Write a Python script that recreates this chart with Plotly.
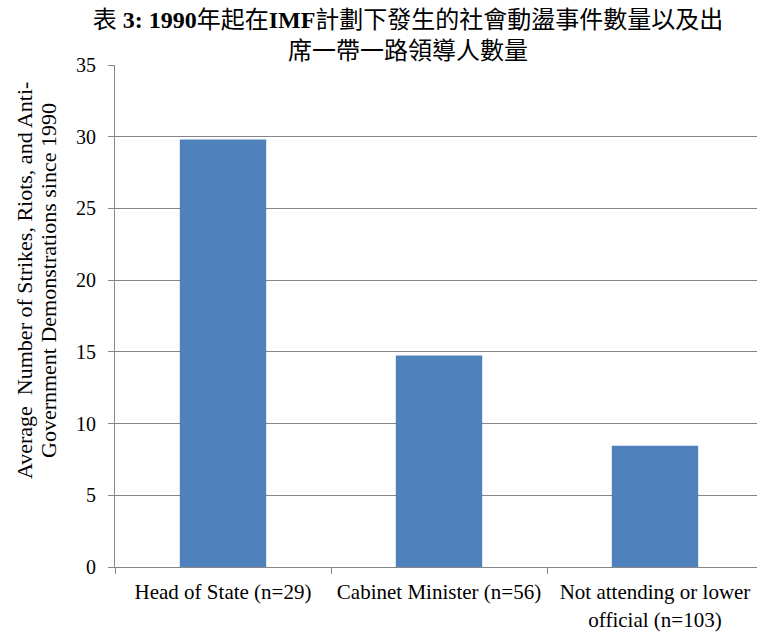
import plotly.graph_objects as go

# Chart data
categories = ["Head of State (n=29)", "Cabinet Minister (n=56)", "Not attending or lower<br>official (n=103)"]
avg_events = [29.8, 14.75, 8.45]
y_ticks = [0, 5, 10, 15, 20, 25, 30, 35]

title_text = "表 <b>3: 1990</b>年起在<b>IMF</b>計劃下發生的社會動盪事件數量以及出<br>席一帶一路領導人數量"
y_title_lines = ["Average  Number of Strikes, Riots, and Anti-",
                 "Government Demonstrations since 1990"]

FONT = "Liberation Serif, Times New Roman, Noto Sans CJK TC, serif"
W, H = 757, 632
L, R, T, B = 115, 0, 65, 65
plot_w = W - L - R
plot_h = H - T - B
cat_px = 216  # pixel width of one category band

fig = go.Figure(
    go.Bar(
        x=categories,
        y=avg_events,
        marker=dict(color="#4F81BD", line=dict(width=0)),
        width=0.4,
    )
)

fig.update_layout(
    width=W,
    height=H,
    margin=dict(l=L, r=R, t=T, b=B),
    paper_bgcolor="white",
    plot_bgcolor="white",
    font=dict(family=FONT, color="#000000"),
    showlegend=False,
    title=dict(
        text=title_text,
        x=408 / W,
        xanchor="center",
        xref="container",
        y=1 - 28 / H,
        yanchor="top",
        yref="container",
        font=dict(family=FONT, size=24, color="#000000"),
    ),
)

fig.update_xaxes(
    range=[-0.5, -0.5 + plot_w / cat_px],
    showgrid=False,
    showline=True,
    linecolor="#868686",
    linewidth=1,
    ticks="outside",
    tickson="boundaries",
    ticklen=6,
    tickcolor="#868686",
    tickfont=dict(family=FONT, size=21, color="#000000"),
    ticklabelstandoff=6,
    fixedrange=True,
)

fig.update_yaxes(
    range=[0, 35],
    tickvals=y_ticks,
    showgrid=True,
    gridcolor="#868686",
    gridwidth=1,
    showline=True,
    linecolor="#868686",
    linewidth=1,
    ticks="outside",
    ticklen=6,
    tickcolor="#868686",
    tickfont=dict(family=FONT, size=20, color="#000000"),
    ticklabelstandoff=8,
    zeroline=False,
    fixedrange=True,
)

# Two-line rotated y-axis title
for text, px in zip(y_title_lines, [24, 48]):
    fig.add_annotation(
        text=text,
        xref="paper", yref="paper",
        x=(px - L) / plot_w,
        y=(H - B - 281) / plot_h,
        xanchor="center", yanchor="middle",
        textangle=-90,
        showarrow=False,
        font=dict(family=FONT, size=22, color="#000000"),
    )

fig.write_html("out.html")
